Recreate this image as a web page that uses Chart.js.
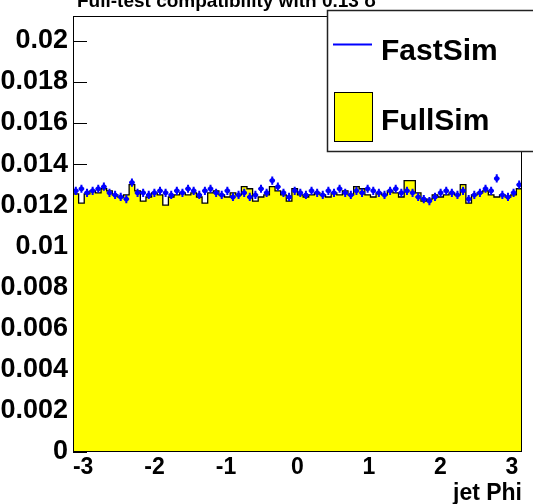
<!DOCTYPE html>
<html><head><meta charset="utf-8">
<script src="https://cdn.jsdelivr.net/npm/chart.js@4/dist/chart.umd.min.js"></script>
<style>html,body{margin:0;padding:0;background:#fff;overflow:hidden}</style>
</head><body>
<canvas id="c" width="533" height="504"></canvas>
<script>
// ---- data ----
const xMin = -Math.PI, xMax = Math.PI;
const yMax = 0.0212;
const nBins = 80;
const fullSim = [
0.01255,0.0121,0.01255,0.0127,0.0126,0.0128,0.0127,0.0125,0.0124,0.0125,
0.0130,0.0127,0.0122,0.0124,0.0126,0.0125,0.0120,0.0124,0.0125,0.0126,
0.0125,0.0126,0.0124,0.0121,0.0126,0.0127,0.0125,0.0124,0.0126,0.0125,
0.0129,0.0128,0.0122,0.0124,0.0125,0.0129,0.0127,0.0125,0.0122,0.0128,
0.0125,0.0124,0.0125,0.0126,0.0125,0.0124,0.0126,0.0125,0.0127,0.0125,
0.0129,0.0128,0.0125,0.0124,0.0126,0.0125,0.0127,0.0126,0.0124,0.0132,
0.0132,0.0126,0.0122,0.0123,0.0125,0.0124,0.0125,0.0126,0.0125,0.0130,
0.0121,0.0125,0.0126,0.0127,0.0125,0.0124,0.0125,0.0124,0.0125,0.0128];
const fastSim = [
0.0127,0.0128,0.0126,0.0127,0.0128,0.0129,0.0126,0.0125,0.0124,0.0123,
0.0131,0.0126,0.0126,0.0125,0.0126,0.0127,0.0126,0.0125,0.0127,0.0126,
0.0128,0.0127,0.0125,0.0127,0.0128,0.0126,0.0125,0.0127,0.0124,0.0125,
0.0126,0.0124,0.0125,0.0128,0.0126,0.0132,0.0129,0.0126,0.0124,0.0127,
0.0126,0.0125,0.0127,0.0126,0.0125,0.0127,0.0126,0.0128,0.0126,0.0125,
0.0127,0.0126,0.0128,0.0127,0.0126,0.0125,0.0127,0.0128,0.0126,0.0127,
0.0126,0.0124,0.0123,0.0122,0.0124,0.0126,0.0127,0.0126,0.0125,0.0127,
0.0123,0.0125,0.0126,0.0128,0.0127,0.0133,0.0125,0.0124,0.0126,0.0130];
const fastErr = [
0.0002,0.0002,0.0002,0.0002,0.0002,0.0002,0.0002,0.0002,0.0002,0.0002,
0.0002,0.0002,0.0002,0.0002,0.0002,0.0002,0.0002,0.0002,0.0002,0.0002,
0.0002,0.0002,0.0002,0.0002,0.0002,0.0002,0.0002,0.0002,0.0002,0.0002,
0.0002,0.0002,0.0002,0.0002,0.0002,0.0002,0.0002,0.0002,0.0002,0.0002,
0.0002,0.0002,0.0002,0.0002,0.0002,0.0002,0.0002,0.0002,0.0002,0.0002,
0.0002,0.0002,0.0002,0.0002,0.0002,0.0002,0.0002,0.0002,0.0002,0.0002,
0.0002,0.0002,0.0002,0.0002,0.0002,0.0002,0.0002,0.0002,0.0002,0.0002,
0.0002,0.0002,0.0002,0.0002,0.0002,0.0002,0.0002,0.0002,0.0002,0.0002];
const xTickValues = [-3,-2,-1,0,1,2,3];
const xTickLabels = ['-3','-2','-1','0','1','2','3'];
const yTickValues = [0,0.002,0.004,0.006,0.008,0.01,0.012,0.014,0.016,0.018,0.02];
const yTickLabels = ['0','0.002','0.004','0.006','0.008','0.01','0.012','0.014','0.016','0.018','0.02'];
const titleText = 'Full-test compatibility with 0.13 \u03C3';
const xTitle = 'jet Phi';
const seriesNames = ['FastSim','FullSim'];

// ---- build library tables ----
const bw = (xMax - xMin) / nBins;
const histPts = [{x:xMin, y:0}];
fullSim.forEach((v,i)=>{ histPts.push({x:xMin+i*bw, y:v}); histPts.push({x:xMin+(i+1)*bw, y:v}); });
histPts.push({x:xMax, y:0});
const fastPts = fastSim.map((v,i)=>({x:xMin+(i+0.5)*bw, y:v, e:fastErr[i]}));

const FONT = '"Liberation Sans", Arial, Helvetica, sans-serif';

const rootPlugin = {
  id:'rootStyle',
  beforeDatasetsDraw(chart){
    const {ctx, chartArea:a, scales:{x,y}} = chart;
    ctx.save();
    ctx.strokeStyle='#000'; ctx.lineWidth=1;
    ctx.beginPath();
    yTickValues.forEach(v=>{
      const py = Math.round(y.getPixelForValue(v))+0.5;
      ctx.moveTo(a.left, py); ctx.lineTo(a.left+14, py);
    });
    xTickValues.forEach(v=>{
      const px = Math.round(x.getPixelForValue(v))+0.5;
      ctx.moveTo(px, a.bottom); ctx.lineTo(px, a.bottom-13);
    });
    ctx.stroke();
    ctx.restore();
  },
  afterDatasetsDraw(chart){
    const {ctx, chartArea:a, scales:{x,y}} = chart;
    ctx.save();
    // error bars
    ctx.strokeStyle='#0000ff'; ctx.lineWidth=2;
    ctx.beginPath();
    fastPts.forEach(p=>{
      const px=x.getPixelForValue(p.x), py=y.getPixelForValue(p.y);
      const pl=x.getPixelForValue(p.x-bw/2), pr=x.getPixelForValue(p.x+bw/2);
      const pt=y.getPixelForValue(p.y+p.e), pb=y.getPixelForValue(p.y-p.e);
      ctx.moveTo(pl,py); ctx.lineTo(pr,py);
      ctx.moveTo(px,pt); ctx.lineTo(px,pb);
    });
    ctx.stroke();
    // frame
    ctx.strokeStyle='#000'; ctx.lineWidth=1;
    ctx.strokeRect(a.left+0.5, a.top+0.5, a.right-a.left-1, a.bottom-a.top-1);
    // tick labels
    ctx.fillStyle='#000';
    ctx.font='bold 27px '+FONT;
    ctx.textAlign='right'; ctx.textBaseline='middle';
    yTickValues.forEach((v,i)=>{ ctx.fillText(yTickLabels[i], a.left-5, y.getPixelForValue(v)); });
    ctx.font='bold 23px '+FONT;
    ctx.textAlign='center'; ctx.textBaseline='top';
    xTickValues.forEach((v,i)=>{ ctx.fillText(xTickLabels[i], x.getPixelForValue(v), a.bottom+4); });
    // axis title
    ctx.font='bold 23px '+FONT;
    ctx.textAlign='right'; ctx.textBaseline='alphabetic';
    ctx.fillText(xTitle, a.right, 500);
    // title (clipped at top)
    ctx.font='bold 19px '+FONT;
    ctx.textAlign='left';
    ctx.fillText(titleText, 77, 7);
    // legend
    ctx.fillStyle='#fff';
    ctx.fillRect(327,10,220,142);
    ctx.strokeStyle='#222'; ctx.lineWidth=1.5;
    ctx.strokeRect(327.5,10.5,220,141);
    ctx.strokeStyle='#0000ff'; ctx.lineWidth=2;
    ctx.beginPath(); ctx.moveTo(333,44.5); ctx.lineTo(372,44.5); ctx.stroke();
    ctx.fillStyle='#ffff00'; ctx.fillRect(334,92,39,50);
    ctx.strokeStyle='#000'; ctx.lineWidth=1; ctx.strokeRect(334.5,92.5,38,49);
    ctx.fillStyle='#000';
    ctx.font='bold 30px '+FONT;
    ctx.textAlign='left'; ctx.textBaseline='alphabetic';
    ctx.fillText(seriesNames[0], 381, 60);
    ctx.fillText(seriesNames[1], 381, 130);
    ctx.restore();
  }
};

new Chart(document.getElementById('c'), {
  type:'line',
  data:{ datasets:[
    { label:seriesNames[1], data:histPts, borderColor:'#000', borderWidth:1.3, backgroundColor:'#ffff00',
      fill:'origin', pointRadius:0, tension:0, order:2 },
    { label:seriesNames[0], data:fastPts, showLine:false, pointRadius:2.5, pointBackgroundColor:'#0000ff',
      pointBorderWidth:0, borderColor:'#0000ff', order:1 }
  ]},
  options:{
    responsive:false, animation:false, devicePixelRatio:1,
    layout:{padding:{left:73, top:16, right:11, bottom:52}},
    plugins:{legend:{display:false}, title:{display:false}, tooltip:{enabled:false}},
    scales:{
      x:{type:'linear', min:xMin, max:xMax, grid:{display:false, drawTicks:false}, border:{display:false},
         ticks:{display:false}, afterFit(s){s.height=0;}},
      y:{type:'linear', min:0, max:yMax, grid:{display:false, drawTicks:false}, border:{display:false},
         ticks:{display:false}, afterFit(s){s.width=0;}}
    }
  },
  plugins:[rootPlugin]
});
</script>
</body></html>
